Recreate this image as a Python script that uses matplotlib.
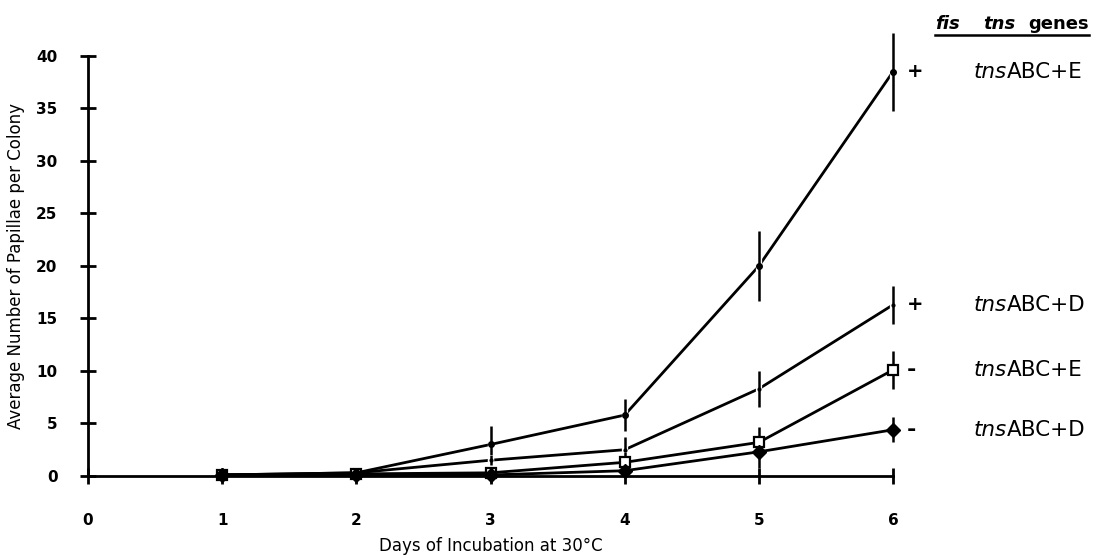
import matplotlib.pyplot as plt
import matplotlib.patheffects as pe

days = [0, 1, 2, 3, 4, 5, 6]

# papillae counts per colony for each fis / tns combination
fis_plus_E = [0, 0.1, 0.3, 3.0, 5.8, 20.0, 38.5]
fis_plus_E_err = [0, 0, 0, 1.8, 1.5, 3.3, 3.7]
fis_plus_D = [0, 0.1, 0.3, 1.5, 2.5, 8.3, 16.3]
fis_plus_D_err = [0, 0, 0, 0.5, 1.2, 1.7, 1.8]
fis_minus_E = [0, 0.1, 0.2, 0.3, 1.3, 3.2, 10.1]
fis_minus_E_err = [0, 0, 0, 0.3, 1.0, 1.5, 1.8]
fis_minus_D = [0, 0.1, 0.1, 0.1, 0.5, 2.3, 4.4]
fis_minus_D_err = [0, 0, 0, 0.3, 0.6, 1.5, 1.2]

fis_signs = ['+', '+', '-', '-']
tns_genes = ['ABC+E', 'ABC+D', 'ABC+E', 'ABC+D']

series = [
    (fis_plus_E, fis_plus_E_err, dict(marker='o', ms=4, mfc='black')),
    (fis_plus_D, fis_plus_D_err, dict(marker='o', ms=2, mfc='black')),
    (fis_minus_E, fis_minus_E_err, dict(marker='s', ms=7, mfc='white', mew=1.6)),
    (fis_minus_D, fis_minus_D_err, dict(marker='D', ms=7, mfc='black')),
]

fig = plt.figure(figsize=(10.96, 5.58), dpi=100)
ax = fig.add_axes([0.0803, 0.147, 0.7345, 0.7527])

for vals, errs, style in series:
    ax.plot(days[1:], vals[1:], color='black', lw=2.0, clip_on=False, zorder=2)
    # white halo around the bars leaves a small gap in the lines
    ax.errorbar(days[3:], vals[3:], yerr=errs[3:], fmt='none', ecolor='black',
                elinewidth=1.8, capsize=0, clip_on=False, zorder=3,
                path_effects=[pe.Stroke(linewidth=4.5, foreground='white'), pe.Normal()])
    ax.plot(days[1:], vals[1:], ls='none', mec='black', clip_on=False,
            zorder=4, **style)

ax.set_xlim(0, 6)
ax.set_ylim(0, 40)
ax.set_xticks(days)
ax.set_yticks(range(0, 41, 5))

for side in ['top', 'right']:
    ax.spines[side].set_visible(False)
for side in ['left', 'bottom']:
    ax.spines[side].set_linewidth(2.0)
    ax.spines[side].set_zorder(5)

ax.tick_params(axis='both', direction='inout', length=12, width=2.0,
               labelsize=11)
ax.tick_params(axis='x', pad=21)
ax.tick_params(axis='y', pad=16)
for lbl in ax.get_xticklabels() + ax.get_yticklabels():
    lbl.set_fontweight('bold')

ax.set_xlabel('Days of Incubation at 30°C', fontsize=12, labelpad=6)
ax.set_ylabel('Average Number of Papillae per Colony', fontsize=12, labelpad=8)

# right-hand key: fis sign and tns genes next to each curve end
for vals, sign, genes in zip([s[0] for s in series], fis_signs, tns_genes):
    y = vals[-1]
    ax.text(6.1, y, sign, fontsize=14 if sign == '+' else 16, fontweight='bold',
            ha='left', va='center', clip_on=False)
    t = ax.text(6.6, y, 'tns', fontsize=15.5, fontstyle='italic', ha='left',
                va='center', clip_on=False)
    ax.annotate(genes, xy=(1, 0.5), xycoords=t, fontsize=15.5, ha='left',
                va='center', annotation_clip=False)

ax.text(6.31, 43.0, 'fis', fontsize=13, fontstyle='italic', fontweight='bold',
        ha='left', va='center', clip_on=False)
ax.text(6.67, 43.0, 'tns', fontsize=13, fontstyle='italic', fontweight='bold',
        ha='left', va='center', clip_on=False)
ax.text(7.01, 43.0, 'genes', fontsize=13, fontweight='bold', ha='left',
        va='center', clip_on=False)
ax.plot([6.31, 7.46], [42.0, 42.0], color='black', lw=1.8, clip_on=False)

fig.savefig('out.png', dpi=100)
